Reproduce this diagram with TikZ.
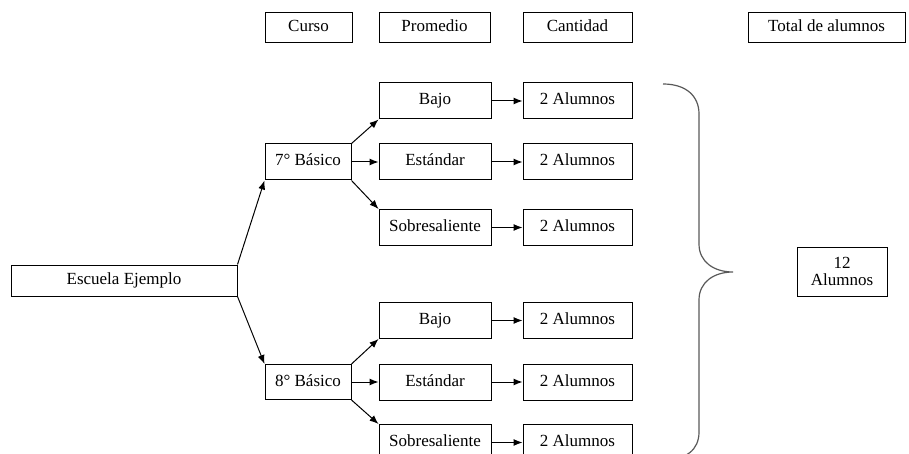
\documentclass[tikz,border=0pt]{standalone}
\usepackage{fontspec}
\setmainfont{Liberation Serif}
\usetikzlibrary{arrows.meta}
\tikzset{
  caja/.style={draw, line width=1pt, minimum height=36pt, inner sep=0pt, text height=12pt, text depth=4pt},
  flecha/.style={line width=1pt, -{Latex[length=9pt,width=7pt]}},
}
\begin{document}
\begin{tikzpicture}[x=1pt, y=-1pt, font=\fontsize{17}{19}\selectfont]
        \useasboundingbox (0,0) rectangle (909,454);
        % encabezados
        \foreach \n/\t/\x/\w in {curso/Curso/308.5/87, prom/Promedio/434.5/111, cant/Cantidad/577.5/109, total/Total de alumnos/826.5/157} {
                \node[caja, minimum height=30pt, minimum width=\w pt] (\n) at (\x,28) {\t};
            }
        \node[caja, minimum width=226pt, minimum height=31pt] (escuela) at (124,280.5) {Escuela Ejemplo};
        \node[caja, minimum width=86pt] (b7) at (308,162) {7° Básico};
        \node[caja, minimum width=86pt, minimum height=35pt] (b8) at (308,382) {8° Básico};
        \draw[flecha] (escuela.north east) -- (b7.south west);
        \draw[flecha] (escuela.south east) -- (b8.north west);
        \foreach \n/\t/\y/\c/\a/\b in {a/Bajo/101/7/north east/south west, b/Estándar/162/7/east/west, c/Sobresaliente/227.5/7/south east/north west, d/Bajo/320.5/8/north east/south west, e/Estándar/382/8/east/west, f/Sobresaliente/442.5/8/south east/north west} {
                \node[caja, minimum width=112pt] (p\n) at (435,\y) {\t};
                \node[caja, minimum width=109pt] (c\n) at (577.5,\y) {2 Alumnos};
                \draw[flecha] (b\c.\a) -- (p\n.\b);
                \draw[flecha] (p\n) -- (c\n);
            }
        % llave
        \draw[line width=1.2pt, black!65] (663,84) .. controls (686,84) and (699,96) .. (699,114) -- (699,244)
            .. controls (699,262) and (714,272) .. (733,272) .. controls (714,272) and (699,282) .. (699,300)
            -- (699,432) .. controls (699,450) and (686,460) .. (663,460);
        \node[caja, minimum width=90pt, minimum height=49pt, align=center, text height=, text depth=] (doce) at (842,271.5) {12\\[-2pt]Alumnos};
    \end{tikzpicture}
\end{document}
